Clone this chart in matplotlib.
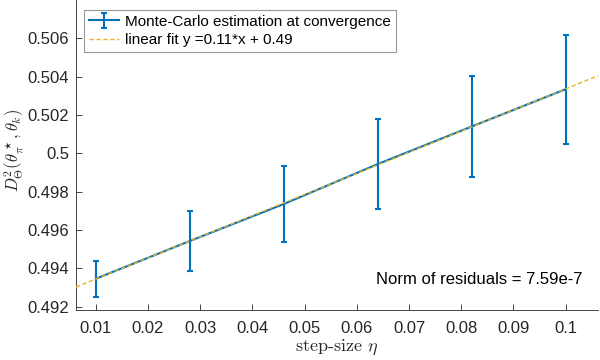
import numpy as np
import matplotlib
matplotlib.use('Agg')
import matplotlib.pyplot as plt

plt.rcParams.update({
    'font.family': 'Liberation Sans',
    'mathtext.fontset': 'cm',
    'font.size': 12,
})

# step sizes and Monte-Carlo estimates
step_size = [0.01, 0.028, 0.046, 0.064, 0.082, 0.1]
dist_mean = [0.49346, 0.49543, 0.49736, 0.49944, 0.50140, 0.50335]
dist_err = [0.00093, 0.00158, 0.00196, 0.00233, 0.00262, 0.00284]
residual_text = 'Norm of residuals = 7.59e-7'

BLUE = '#0072BD'
ORANGE = '#EDB120'
GRAY = '#262626'

slope, intercept = np.polyfit(step_size, dist_mean, 1)
xlim = (0.0062, 0.1062)
x_fit = np.array(xlim)

fig = plt.figure(figsize=(6, 3.6), dpi=100)
ax = fig.add_axes([0.1267, 0.1389, 0.87, 0.861])

eb = ax.errorbar(step_size, dist_mean, yerr=dist_err, color=BLUE, linewidth=1.5,
                 capsize=2.5, capthick=1.5, zorder=2,
                 label='Monte-Carlo estimation at convergence')
fit, = ax.plot(x_fit, slope * x_fit + intercept, '--', color=ORANGE,
               linewidth=1.0, dashes=(3, 2), zorder=3,
               label='linear fit y =%.2f*x + %.2f' % (slope, intercept))

ax.set_xlim(*xlim)
ax.set_ylim(0.49183, 0.5080)
ax.set_xticks(np.arange(0.01, 0.1001, 0.01))
ax.set_xticklabels(['0.01', '0.02', '0.03', '0.04', '0.05', '0.06', '0.07',
                    '0.08', '0.09', '0.1'])
ax.set_yticks(np.arange(0.492, 0.5061, 0.002))
ax.set_yticklabels(['0.492', '0.494', '0.496', '0.498', '0.5', '0.502',
                    '0.504', '0.506'])

for side in ['top', 'right']:
    ax.spines[side].set_visible(False)
for side in ['left', 'bottom']:
    ax.spines[side].set_color(GRAY)
    ax.spines[side].set_linewidth(0.6)
ax.tick_params(direction='in', length=4, width=0.6, colors=GRAY, labelsize=12,
               labelcolor=GRAY)
ax.tick_params(axis='x', pad=8)
ax.tick_params(axis='y', pad=5)

ax.set_xlabel(r'step-size $\eta$', fontfamily='cmr10', fontsize=13,
              color=GRAY, labelpad=1)
ax.set_ylabel(r'$D^2_\Theta(\theta^\star_\pi, \theta_k)$', fontsize=12,
              color=GRAY)
ax.yaxis.set_label_coords(-0.096, 0.513)

ax.text(0.0637, 0.4934, residual_text, fontsize=12, color='black',
        va='center', ha='left')

leg = ax.legend([eb, fit], [eb.get_label(), fit.get_label()],
                loc='upper left', bbox_to_anchor=(0.0153, 0.968),
                fontsize=11, frameon=True, fancybox=False,
                handlelength=2.0, handletextpad=0.4, borderpad=0.3,
                labelspacing=0.3, borderaxespad=0)
leg.get_frame().set_edgecolor('#808080')
leg.get_frame().set_linewidth(0.8)

fig.savefig('out.png', dpi=100)
